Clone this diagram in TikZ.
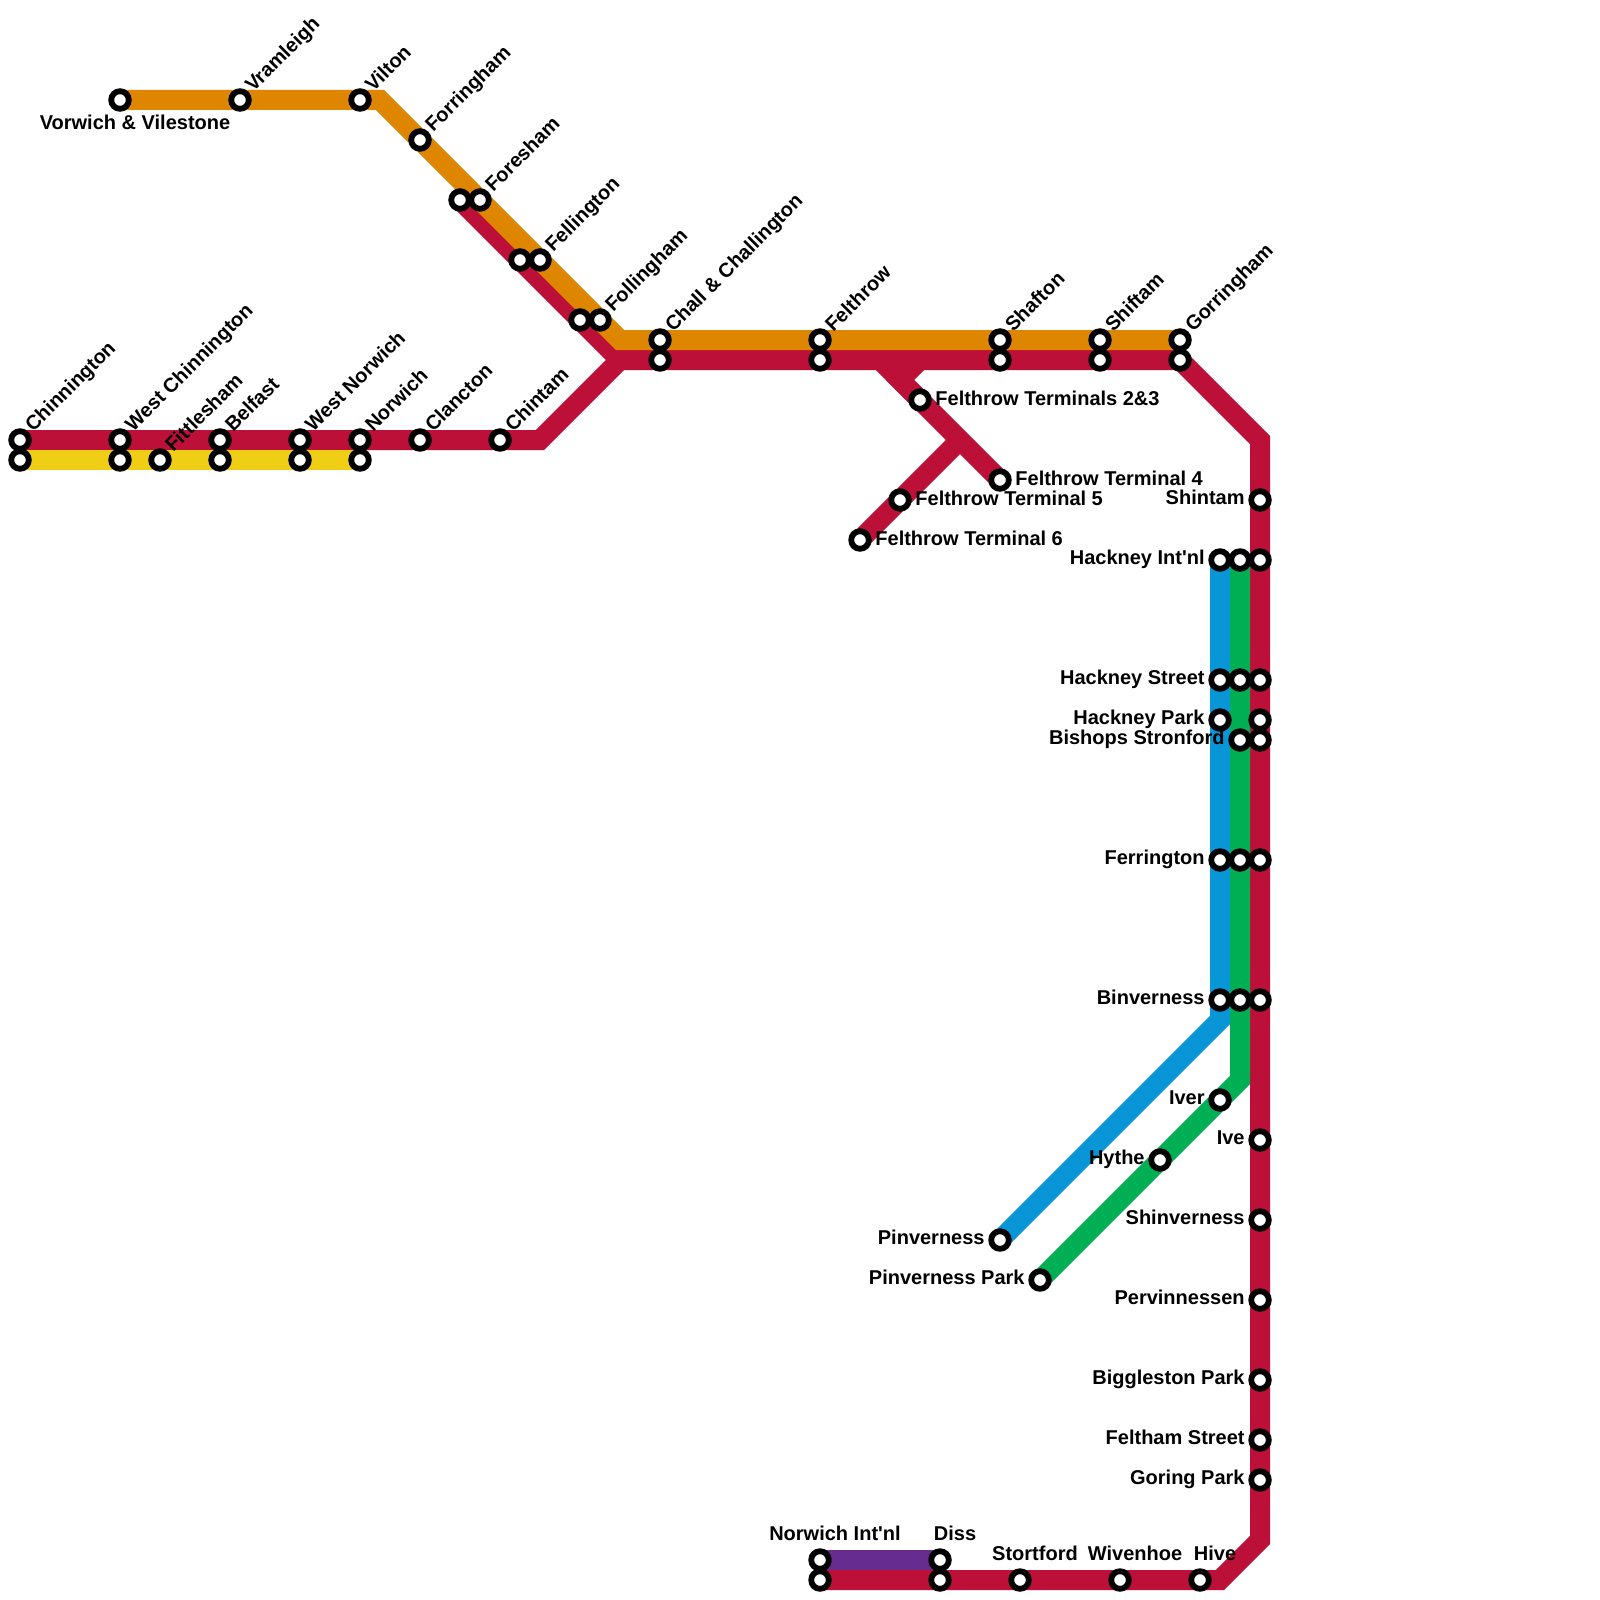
\documentclass[tikz,border=0pt]{standalone}
\usepackage{fontspec}
\setmainfont{Liberation Sans}
\usetikzlibrary{backgrounds}

\tikzset{
    station/.style={circle, draw=black, fill=white, line width=2.9pt, minimum size=8.8pt, inner sep=0pt},
    metro/.style={line width=10pt, line join=miter, miter limit=10},
    namelabel/.style={font=\bfseries\fontsize{10}{10}\selectfont, inner sep=0pt, text=black},
    nelabel/.style={namelabel, rotate=45, anchor=base west},
    leftlabel/.style={namelabel, anchor=base east},
    rightlabel/.style={namelabel, anchor=base west},
    toplabel/.style={namelabel, anchor=base}
}

\begin{document}
\begin{tikzpicture}[x=0.5pt, y=-0.5pt]
    \definecolor{colRed}{HTML}{BD1038}
    \definecolor{colOrange}{HTML}{DF8600}
    \definecolor{colYellow}{HTML}{F0CE15}
    \definecolor{colBlue}{HTML}{0896D7}
    \definecolor{colGreen}{HTML}{00AF54}
    \definecolor{colPurple}{HTML}{662C90}

    \useasboundingbox (0,0) rectangle (1600,1600);

    % Stations labelled up and to the right
    \foreach \nm/\x/\y/\txt in {chinnington/20/440/Chinnington, westchinn/120/440/West Chinnington,
            fittlesham/160/460/Fittlesham, belfast/220/440/Belfast, westnorwich/300/440/West Norwich,
            norwich/360/440/Norwich, clancton/420/440/Clancton, chintam/500/440/Chintam,
            vramleigh/240/100/Vramleigh, vilton/360/100/Vilton, forringham/420/140/Forringham,
            foresham/480/200/Foresham, fellington/540/260/Fellington, follingham/600/320/Follingham,
            chall/660/340/Chall \& Challington, felthrow/820/340/Felthrow, shafton/1000/340/Shafton,
            shiftam/1100/340/Shiftam, gorringham/1180/340/Gorringham} {
        \node[station] (\nm) at (\x,\y) {};
        \node[nelabel] (lbl\nm) at ([shift={(13,-7)}]\nm) {\txt};
    }

    % Stations labelled on the left
    \foreach \nm/\x/\y/\txt in {shintam/1260/500/Shintam, hackneyintl/1220/560/Hackney Int\textquotesingle nl,
            hackneyst/1220/680/Hackney Street, hackneypk/1220/720/Hackney Park,
            bishops/1240/740/Bishops Stronford, ferrington/1220/860/Ferrington,
            binverness/1220/1000/Binverness, iver/1220/1100/Iver, ive/1260/1140/Ive,
            hythe/1160/1160/Hythe, shinverness/1260/1220/Shinverness, pinverness/1000/1240/Pinverness,
            pinvpark/1040/1280/Pinverness Park, pervinnessen/1260/1300/Pervinnessen,
            biggleston/1260/1380/Biggleston Park, felthamst/1260/1440/Feltham Street,
            goring/1260/1480/Goring Park} {
        \node[station] (\nm) at (\x,\y) {};
        \node[leftlabel] (lbl\nm) at ([shift={(-15,4)}]\nm) {\txt};
    }

    % Stations labelled on the right
    \foreach \nm/\x/\y/\txt in {termtwo/920/400/Felthrow Terminals 2\&3, termfour/1000/480/Felthrow Terminal 4,
            termfive/900/500/Felthrow Terminal 5, termsix/860/540/Felthrow Terminal 6} {
        \node[station] (\nm) at (\x,\y) {};
        \node[rightlabel] (lbl\nm) at ([shift={(15,5)}]\nm) {\txt};
    }

    % Stations labelled above
    \foreach \nm/\x/\y/\txt in {norwichintl/820/1560/Norwich Int\textquotesingle nl, diss/940/1560/Diss,
            stortford/1020/1580/Stortford, wivenhoe/1120/1580/Wivenhoe, hive/1200/1580/Hive} {
        \node[station] (\nm) at (\x,\y) {};
        \node[toplabel] (lbl\nm) at ([shift={(15,-20)}]\nm) {\txt};
    }

    % Terminus with its label below
    \node[station] (vorwich) at (120,100) {};
    \node[toplabel] (lblvorwich) at ([shift={(15,30)}]vorwich) {Vorwich \& Vilestone};

    % Second stations of each pair
    \foreach \nm/\x/\y in {chinningtonB/20/460, westchinnB/120/460, belfastB/220/460, westnorwichB/300/460,
            norwichB/360/460, foreshamB/460/200, fellingtonB/520/260, follinghamB/580/320,
            challB/660/360, felthrowB/820/360, shaftonB/1000/360, shiftamB/1100/360, gorringhamB/1180/360,
            hackneyintlB/1240/560, hackneyintlC/1260/560, hackneystB/1240/680, hackneystC/1260/680,
            hackneypkB/1260/720, bishopsB/1260/740, ferringtonB/1240/860, ferringtonC/1260/860,
            binvernessB/1240/1000, binvernessC/1260/1000, norwichintlB/820/1580, dissB/940/1580} {
        \node[station] (\nm) at (\x,\y) {};
    }

    % Bends and junctions
    \foreach \nm/\x/\y in {bendA/380/100, bendB/620/340, bendC/620/360, bendD/540/440, bendE/1260/440,
            bendF/1260/1540, bendG/1220/1580, bendH/880/360, bendI/900/380, bendJ/920/360, bendK/960/440,
            bendL/1220/1020, bendM/1240/1080} {
        \coordinate (\nm) at (\x,\y);
    }

    % Lines go under the stations
    \begin{scope}[on background layer]
        \draw[metro, colRed] (chinnington.center) -- (bendD) -- (bendC) -- (foreshamB.center);
        \draw[metro, colRed] (bendC) -- (gorringhamB.center) -- (bendE) -- (bendF) -- (bendG) -- (norwichintlB.center);
        \draw[metro, colRed] (bendH) -- (termfour.center);
        \draw[metro, colRed] (termtwo.center) -- (bendI) -- (bendJ);
        \draw[metro, colRed] (termsix.center) -- (bendK);
        \draw[metro, colYellow] (chinningtonB.center) -- (norwichB.center);
        \draw[metro, colOrange] (vorwich.center) -- (bendA) -- (bendB) -- (gorringham.center);
        \draw[metro, colBlue] (hackneyintl.center) -- (bendL) -- (pinverness.center);
        \draw[metro, colGreen] (hackneyintlB.center) -- (bendM) -- (pinvpark.center);
        \draw[metro, colPurple] (norwichintl.center) -- (diss.center);
    \end{scope}
\end{tikzpicture}
\end{document}
